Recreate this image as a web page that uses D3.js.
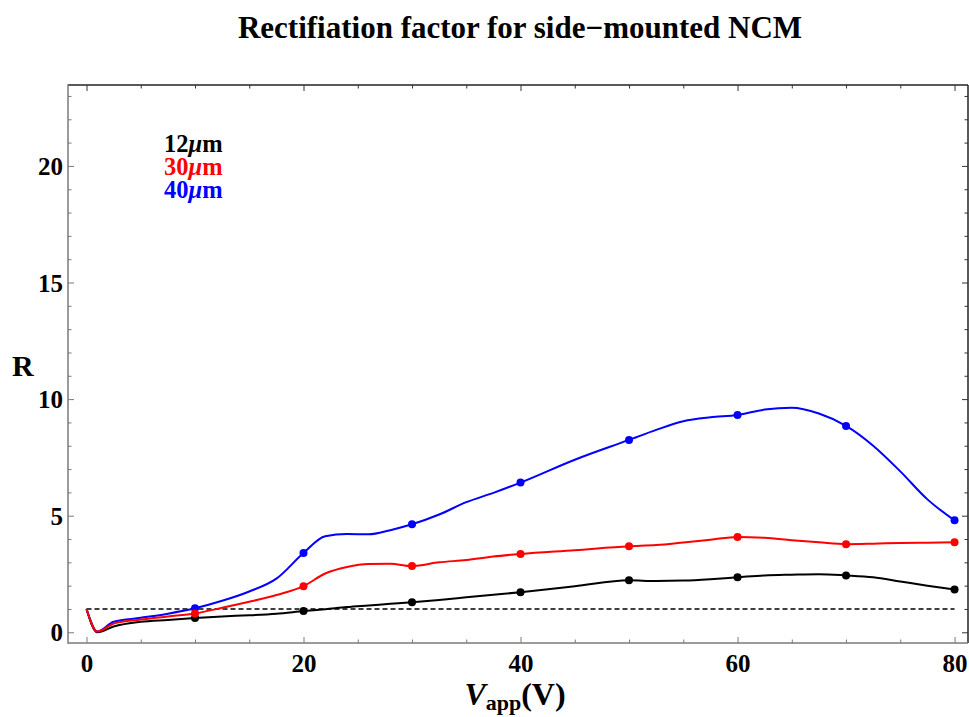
<!DOCTYPE html>
<html>
<head>
<meta charset="utf-8">
<script src="https://cdn.jsdelivr.net/npm/d3@7"></script>
<style>
  html, body { margin: 0; padding: 0; background: #fff; }
  svg { display: block; }
  text { font-family: "Liberation Serif", "Times New Roman", serif; font-weight: bold; }
</style>
</head>
<body>
<svg id="chart" width="969" height="717"></svg>
<script>
// ---- data ----
const title = "Rectifiation factor for side\u2212mounted NCM";
const seriesNames = ["12\u03bcm", "30\u03bcm", "40\u03bcm"];
const seriesColors = ["#000000", "#ff0000", "#0000ff"];

// fine voltage grid used for the smooth curves
const vCurve = [0, 1, 2.5, 5, 7.5, 10, 12.5, 15, 17.5, 20, 22, 24, 26, 28, 30, 32.5, 35, 37.5, 40, 45, 50, 52.5, 55, 57.5, 60, 62.5, 65, 67.5, 70, 72.5, 75, 77.5, 80];
const r12 = [1.0, 0.0, 0.25, 0.45, 0.53, 0.61, 0.68, 0.73, 0.80, 0.91, 0.99, 1.08, 1.15, 1.22, 1.29, 1.39, 1.50, 1.61, 1.72, 1.97, 2.23, 2.20, 2.22, 2.28, 2.36, 2.44, 2.47, 2.49, 2.44, 2.36, 2.18, 2.00, 1.84];
const r30 = [1.0, 0.03, 0.37, 0.55, 0.68, 0.81, 1.05, 1.31, 1.60, 1.98, 2.52, 2.80, 2.93, 2.94, 2.84, 3.00, 3.10, 3.25, 3.36, 3.52, 3.69, 3.74, 3.85, 3.97, 4.09, 4.05, 3.95, 3.86, 3.78, 3.80, 3.83, 3.84, 3.86];
const r40 = [1.0, 0.03, 0.45, 0.62, 0.80, 1.03, 1.35, 1.75, 2.30, 3.40, 4.12, 4.21, 4.20, 4.38, 4.63, 5.05, 5.58, 5.98, 6.42, 7.40, 8.25, 8.68, 9.05, 9.22, 9.32, 9.55, 9.63, 9.38, 8.85, 8.00, 6.90, 5.70, 4.80];

// measured points (dots)
const vDots = [10, 20, 30, 40, 50, 60, 70, 80];
const d12 = [0.61, 0.91, 1.29, 1.72, 2.23, 2.36, 2.44, 1.84];
const d30 = [0.81, 1.98, 2.84, 3.36, 3.69, 4.09, 3.78, 3.86];
const d40 = [1.03, 3.40, 4.63, 6.42, 8.25, 9.32, 8.85, 4.80];

const refLevel = 1;
const refRange = [0, 80];

const xTicksMajor = [0, 20, 40, 60, 80];
const xTicksMinor = d3.range(0, 81, 5);
const yTicksMajor = [0, 5, 10, 15, 20];
const yTicksMinor = d3.range(0, 24, 1);

// ---- layout ----
const svg = d3.select("#chart");
const L = 68, R = 968, T = 85, B = 643;
const x = d3.scaleLinear().domain([-1.705, 81.24]).range([L, R]);
const y = d3.scaleLinear().domain([-0.459, 23.47]).range([B, T]);

// title
svg.append("text").attr("x", 520).attr("y", 38).attr("text-anchor", "middle")
  .attr("font-size", 31).text(title);

// frame
const frameGray = "#7a7a7a";
svg.append("line").attr("x1", L).attr("x2", R).attr("y1", T).attr("y2", T).attr("stroke", "#222").attr("stroke-width", 1.5);
svg.append("line").attr("x1", R).attr("x2", R).attr("y1", T).attr("y2", B).attr("stroke", "#222").attr("stroke-width", 1.5);
svg.append("line").attr("x1", L).attr("x2", L).attr("y1", T - 0.75).attr("y2", B + 0.75).attr("stroke", frameGray).attr("stroke-width", 1.5);
svg.append("line").attr("x1", L).attr("x2", R).attr("y1", B).attr("y2", B).attr("stroke", frameGray).attr("stroke-width", 1.5);

// axes via d3 axis generators (ticks inside)
function styleAxis(g, color) {
  g.select(".domain").remove();
  g.selectAll(".tick line").attr("stroke", color).attr("stroke-width", 1);
  g.selectAll("text").attr("font-family", "Liberation Serif, Times New Roman, serif").attr("font-weight", "bold").attr("fill", "#000");
}
// bottom
const gBminor = svg.append("g").attr("transform", `translate(0,${B})`)
  .call(d3.axisTop(x).tickValues(xTicksMinor.filter(v => !xTicksMajor.includes(v))).tickSize(3.5).tickFormat(""));
styleAxis(gBminor, frameGray);
const gBmajor = svg.append("g").attr("transform", `translate(0,${B})`)
  .call(d3.axisTop(x).tickValues(xTicksMajor).tickSize(6).tickFormat(""));
styleAxis(gBmajor, frameGray);
const gBlab = svg.append("g").attr("transform", `translate(0,${B})`)
  .call(d3.axisBottom(x).tickValues(xTicksMajor).tickSize(0).tickPadding(10).tickFormat(d3.format("d")));
styleAxis(gBlab, frameGray);
gBlab.selectAll("text").attr("font-size", 25).attr("dy", "0.71em").attr("y", 11);

// top
const gTminor = svg.append("g").attr("transform", `translate(0,${T})`)
  .call(d3.axisBottom(x).tickValues(xTicksMinor.filter(v => !xTicksMajor.includes(v))).tickSize(3.5).tickFormat(""));
styleAxis(gTminor, "#333");
const gTmajor = svg.append("g").attr("transform", `translate(0,${T})`)
  .call(d3.axisBottom(x).tickValues(xTicksMajor).tickSize(6).tickFormat(""));
styleAxis(gTmajor, "#333");

// left
const gLminor = svg.append("g").attr("transform", `translate(${L},0)`)
  .call(d3.axisRight(y).tickValues(yTicksMinor.filter(v => !yTicksMajor.includes(v))).tickSize(3.5).tickFormat(""));
styleAxis(gLminor, frameGray);
const gLmajor = svg.append("g").attr("transform", `translate(${L},0)`)
  .call(d3.axisRight(y).tickValues(yTicksMajor).tickSize(6).tickFormat(""));
styleAxis(gLmajor, frameGray);
const gLlab = svg.append("g").attr("transform", `translate(${L},0)`)
  .call(d3.axisLeft(y).tickValues(yTicksMajor).tickSize(0).tickPadding(5).tickFormat(d3.format("d")));
styleAxis(gLlab, frameGray);
gLlab.selectAll("text").attr("font-size", 25).attr("dy", "0.34em");

// right
const gRminor = svg.append("g").attr("transform", `translate(${R},0)`)
  .call(d3.axisLeft(y).tickValues(yTicksMinor.filter(v => !yTicksMajor.includes(v))).tickSize(3.5).tickFormat(""));
styleAxis(gRminor, "#333");
const gRmajor = svg.append("g").attr("transform", `translate(${R},0)`)
  .call(d3.axisLeft(y).tickValues(yTicksMajor).tickSize(6).tickFormat(""));
styleAxis(gRmajor, "#333");

// axis titles
const xt = svg.append("text").attr("x", 515).attr("y", 705).attr("text-anchor", "middle").attr("font-size", 32);
xt.append("tspan").attr("font-style", "italic").text("V");
xt.append("tspan").attr("font-size", 22).attr("dy", 5).text("app");
xt.append("tspan").attr("dy", -5).text("(V)");
svg.append("text").attr("x", 12).attr("y", 376).attr("font-size", 30).text("R");

// reference dashed line
svg.append("line")
  .attr("x1", x(refRange[0])).attr("x2", x(refRange[1]))
  .attr("y1", y(refLevel)).attr("y2", y(refLevel))
  .attr("stroke", "#000").attr("stroke-width", 1.6).attr("stroke-dasharray", "5,3");

// curves
const curves = [r12, r30, r40];
const dots = [d12, d30, d40];
const line = d3.line().x(d => x(d[0])).y(d => y(d[1])).curve(d3.curveMonotoneX);
const drawOrder = [0, 2, 1];
drawOrder.forEach(i => {
  const pts = vCurve.map((v, k) => [v, curves[i][k]]);
  svg.append("path").datum(pts).attr("d", line)
    .attr("fill", "none").attr("stroke", seriesColors[i]).attr("stroke-width", 2)
    .attr("stroke-linejoin", "round");
});
drawOrder.forEach(i => {
  svg.append("g").selectAll("circle").data(vDots.map((v, k) => [v, dots[i][k]]))
    .join("circle").attr("cx", d => x(d[0])).attr("cy", d => y(d[1])).attr("r", 4)
    .attr("fill", seriesColors[i]);
});

// legend
seriesNames.forEach((name, i) => {
  const t = svg.append("text").attr("x", 164).attr("y", 152 + i * 23).attr("font-size", 24.5).attr("fill", seriesColors[i]);
  t.append("tspan").text(name.slice(0, 2));
  t.append("tspan").attr("font-style", "italic").text(name.slice(2, 3));
  t.append("tspan").text(name.slice(3));
});
</script>
</body>
</html>
